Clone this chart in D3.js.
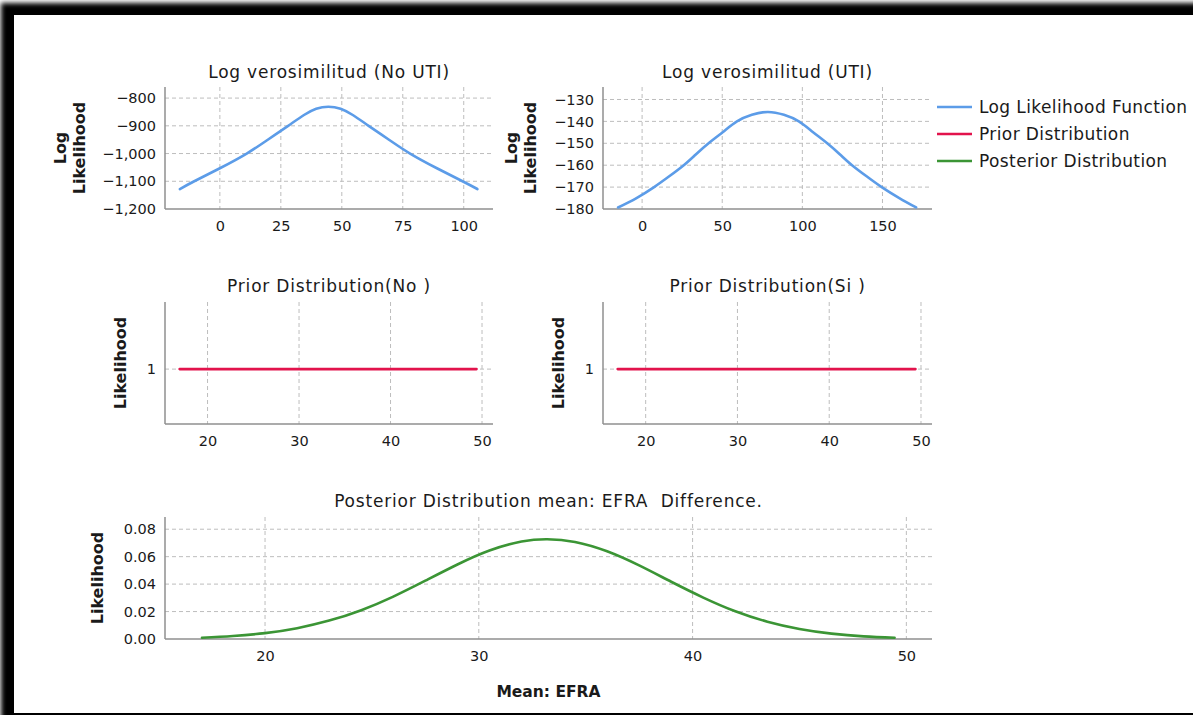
<!DOCTYPE html>
<html>
<head>
<meta charset="utf-8">
<script src="https://cdn.jsdelivr.net/npm/d3@7/dist/d3.min.js"></script>
<style>
  html, body { margin: 0; padding: 0; background: #fff; }
  svg { display: block; }
  text { font-family: "DejaVu Sans", "Liberation Sans", sans-serif; fill: #1a1a1a; white-space: pre; }
</style>
</head>
<body>
<svg id="chart" width="1193" height="715"></svg>
<script>
// ---- Data -------------------------------------------------------------
// Log likelihood, group "No UTI"
const llNoX = [-16.4, -10.5, 0, 11, 19.5, 28, 34.5, 39.5, 44.5, 49.5, 54.5, 61, 69.5, 78, 89, 99.5, 105.6];
const llNoY = [-1128, -1100, -1053, -1000, -951, -900, -861, -838.5, -831, -838.5, -861, -900, -951, -1000, -1053, -1100, -1128];

// Log likelihood, group "UTI"
const llSiX = [-15, -3.5, 7.5, 16.5, 26, 33.5, 41.5, 50.5, 59.2, 68.5, 78.5, 88.5, 97.8, 106.5, 115.5, 123.5, 131, 140.5, 149.5, 160.5, 171];
const llSiY = [-179.3, -175, -170, -165.3, -160, -155.1, -150, -144.8, -140, -137, -135.7, -137, -140, -144.8, -150, -155.1, -160, -165.3, -170, -175, -179.3];

// Uniform priors (constant likelihood over the support)
const priorNoX = [16.95, 49.4];
const priorNoY = [1, 1];
const priorSiX = [16.95, 49.4];
const priorSiY = [1, 1];

// Posterior distribution of the mean difference
const postX = [17.05, 18.5, 20, 21.5, 23, 24.5, 26, 27.5, 29, 30.5, 32, 33.2, 34.5, 36, 37.5, 39, 40.5, 42, 43.5, 45, 46.5, 48, 49.45];
const postY = [0.0009, 0.0022, 0.0043, 0.0079, 0.0134, 0.021, 0.0309, 0.0425, 0.0543, 0.0645, 0.071, 0.0727, 0.0707, 0.0639, 0.0536, 0.0417, 0.0302, 0.0202, 0.0126, 0.0073, 0.0039, 0.0019, 0.0009];

// Tick values
const llNoXTicks = [0, 25, 50, 75, 100];
const llNoYTicks = [-1200, -1100, -1000, -900, -800];
const llSiXTicks = [0, 50, 100, 150];
const llSiYTicks = [-180, -170, -160, -150, -140, -130];
const meanTicks = [20, 30, 40, 50];
const priorYTicks = [1];
const postYTicks = [0, 0.02, 0.04, 0.06, 0.08];

// Legend
const legendLabels = ["Log Likelihood Function", "Prior Distribution", "Posterior Distribution"];
const colors = { ll: "#5c9ce8", prior: "#e2134c", post: "#3b9535" };
const legendColors = [colors.ll, colors.prior, colors.post];

// ---- Frame ------------------------------------------------------------
const svg = d3.select("#chart");
const defs = svg.append("defs");
defs.append("filter").attr("id", "soft").attr("x", "-5%").attr("y", "-5%").attr("width", "110%").attr("height", "110%")
  .append("feGaussianBlur").attr("stdDeviation", 2.6);
svg.append("rect").attr("x", 1).attr("y", 3).attr("width", 1260).attr("height", 760)
  .attr("fill", "#000").attr("filter", "url(#soft)");
svg.append("rect").attr("x", 14).attr("y", 15).attr("width", 1193 - 14).attr("height", 713 - 15)
  .attr("fill", "#fff");

// ---- Panels -------------------------------------------------------------
const fmtComma = d3.format(",");
function panel(o) {
  const g = svg.append("g");
  const x = d3.scaleLinear().domain(o.xDomain).range([o.left, o.right]);
  const y = d3.scaleLinear().domain(o.yDomain).range([o.bottom, o.top]);

  // grid
  const grid = g.append("g").attr("stroke", "#bdbdbd").attr("stroke-width", 1).attr("stroke-dasharray", "4,3");
  o.xTicks.forEach(t => grid.append("line")
    .attr("x1", x(t)).attr("x2", x(t)).attr("y1", o.top).attr("y2", o.bottom));
  o.yTicks.filter(t => Math.abs(y(t) - o.bottom) > 1).forEach(t => grid.append("line")
    .attr("x1", o.left).attr("x2", o.right).attr("y1", y(t)).attr("y2", y(t)));

  // axes (labels only, no tick marks)
  const xa = g.append("g").attr("transform", `translate(0,${o.bottom})`)
    .call(d3.axisBottom(x).tickValues(o.xTicks).tickSize(0).tickPadding(12).tickFormat(d3.format("d")));
  const ya = g.append("g").attr("transform", `translate(${o.left},0)`)
    .call(d3.axisLeft(y).tickValues(o.yTicks).tickSize(0).tickPadding(9).tickFormat(o.yFmt));
  [xa, ya].forEach(a => {
    a.select(".domain").remove();
    a.selectAll("text").attr("font-family", "DejaVu Sans").attr("font-size", 14.5).attr("fill", "#1a1a1a");
  });
  g.append("line").attr("x1", o.left).attr("x2", o.left).attr("y1", o.top).attr("y2", o.bottom)
    .attr("stroke", "#8f8f8f").attr("stroke-width", 1.5);
  g.append("line").attr("x1", o.left).attr("x2", o.right).attr("y1", o.bottom).attr("y2", o.bottom)
    .attr("stroke", "#8f8f8f").attr("stroke-width", 1.5);

  // series
  const pts = o.xs.map((v, i) => [v, o.ys[i]]);
  g.append("path").datum(pts)
    .attr("fill", "none").attr("stroke", o.color).attr("stroke-width", 2.6).attr("stroke-linecap", "round")
    .attr("d", d3.line().x(d => x(d[0])).y(d => y(d[1])).curve(d3.curveNatural));

  // title
  g.append("text").attr("x", (o.left + o.right) / 2).attr("y", o.titleY)
    .attr("text-anchor", "middle").attr("font-size", 17).attr("letter-spacing", 0.8).text(o.title);

  // y-axis title (rotated, bold)
  const cy = (o.top + o.bottom) / 2;
  o.yLabel.forEach((s, i) => {
    g.append("text").attr("transform", `translate(${o.yLabelX[i]},${cy}) rotate(-90)`)
      .attr("text-anchor", "middle").attr("font-weight", "bold").attr("font-size", 16).text(s);
  });
  return { x, y };
}

panel({
  left: 165, right: 493, top: 87, bottom: 209,
  xDomain: [-22.5, 112], yDomain: [-1200, -760],
  xTicks: llNoXTicks, yTicks: llNoYTicks, yFmt: fmtComma,
  xs: llNoX, ys: llNoY, color: colors.ll,
  title: "Log verosimilitud (No UTI)", titleY: 78,
  yLabel: ["Log", "Likelihood"], yLabelX: [66, 85]
});

panel({
  left: 603, right: 932, top: 87, bottom: 209,
  xDomain: [-24.4, 180.9], yDomain: [-180, -124.3],
  xTicks: llSiXTicks, yTicks: llSiYTicks, yFmt: fmtComma,
  xs: llSiX, ys: llSiY, color: colors.ll,
  title: "Log verosimilitud (UTI)", titleY: 78,
  yLabel: ["Log", "Likelihood"], yLabelX: [517, 536]
});

panel({
  left: 165, right: 493, top: 302, bottom: 424,
  xDomain: [15.35, 51.2], yDomain: [0.55, 1.55],
  xTicks: meanTicks, yTicks: priorYTicks, yFmt: d3.format("d"),
  xs: priorNoX, ys: priorNoY, color: colors.prior,
  title: "Prior Distribution(No )", titleY: 292,
  yLabel: ["Likelihood"], yLabelX: [126]
});

panel({
  left: 603, right: 932, top: 302, bottom: 424,
  xDomain: [15.35, 51.2], yDomain: [0.55, 1.55],
  xTicks: meanTicks, yTicks: priorYTicks, yFmt: d3.format("d"),
  xs: priorSiX, ys: priorSiY, color: colors.prior,
  title: "Prior Distribution(Si )", titleY: 292,
  yLabel: ["Likelihood"], yLabelX: [564]
});

panel({
  left: 165, right: 932, top: 517, bottom: 639,
  xDomain: [15.32, 51.2], yDomain: [0, 0.0889],
  xTicks: meanTicks, yTicks: postYTicks, yFmt: d3.format(".2f"),
  xs: postX, ys: postY, color: colors.post,
  title: "Posterior Distribution mean: EFRA  Difference.", titleY: 507,
  yLabel: ["Likelihood"], yLabelX: [103]
});

// x-axis title of the posterior panel
svg.append("text").attr("x", 548.5).attr("y", 697).attr("text-anchor", "middle")
  .attr("font-weight", "bold").attr("font-size", 15.5).text("Mean: EFRA");

// ---- Legend ---------------------------------------------------------------
const leg = svg.append("g");
legendLabels.forEach((s, i) => {
  const yy = 107 + i * 27;
  leg.append("line").attr("x1", 937).attr("x2", 972).attr("y1", yy).attr("y2", yy)
    .attr("stroke", legendColors[i]).attr("stroke-width", 2.6);
  leg.append("text").attr("x", 979).attr("y", yy).attr("dy", "0.35em")
    .attr("font-size", 17).attr("letter-spacing", 0.4).text(s);
});
</script>
</body>
</html>
